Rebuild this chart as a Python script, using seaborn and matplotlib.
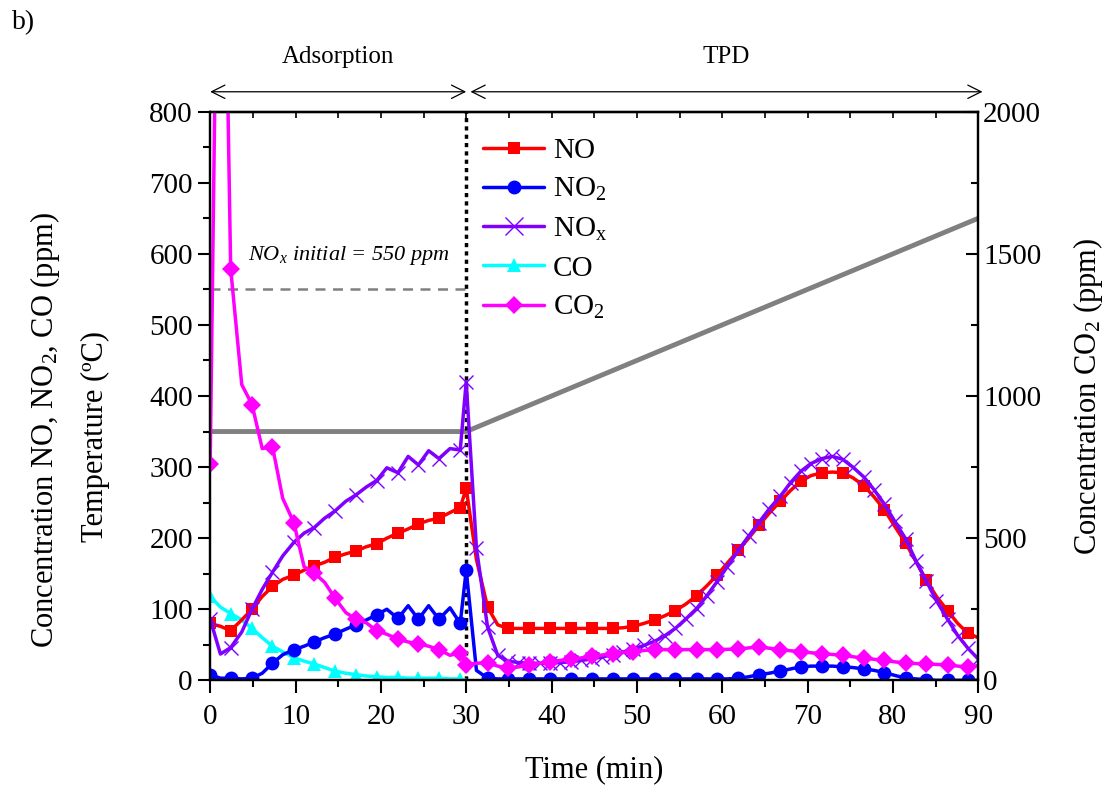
import matplotlib
matplotlib.use("Agg")
import matplotlib.pyplot as plt
from matplotlib.lines import Line2D
from matplotlib.ticker import MultipleLocator
import seaborn as sns

# sampling times (min): adsorption then TPD
time_ads = [0.0, 1.2, 2.4, 3.7, 4.9, 6.1, 7.3, 8.5, 9.8, 11.0, 12.2, 13.4, 14.6,
            15.9, 17.1, 18.3, 19.5, 20.7, 22.0, 23.2, 24.4, 25.6, 26.8, 28.1, 29.3]
time_tpd = [30.0, 31.2, 32.5, 33.7, 34.9, 36.1, 37.4, 38.6, 39.8, 41.0, 42.3, 43.5,
            44.7, 45.9, 47.2, 48.4, 49.6, 50.8, 52.1, 53.3, 54.5, 55.7, 57.0, 58.2,
            59.4, 60.6, 61.9, 63.1, 64.3, 65.5, 66.8, 68.0, 69.2, 70.4, 71.7, 72.9,
            74.1, 75.3, 76.6, 77.8, 79.0, 80.2, 81.5, 82.7, 83.9, 85.1, 86.4, 87.6,
            88.8, 90.0]
time = time_ads + time_tpd

no = [80, 76, 70, 85, 100, 118, 132, 142, 148, 155, 161, 166, 173,
      178, 182, 188, 192, 200, 207, 213, 220, 225, 228, 236, 243,
      270, 170, 103, 78, 73, 73, 73, 73, 73, 73, 73, 73,
      73, 73, 73, 74, 76, 80, 85, 91, 98, 107, 119, 133,
      148, 165, 183, 200, 218, 235, 252, 267, 280, 288, 292, 293,
      292, 285, 274, 258, 240, 217, 193, 167, 141, 118, 98, 80,
      66, 60]

no2 = [8, 3, 3, 2, 3, 10, 24, 36, 43, 48, 54, 60, 65,
       72, 78, 85, 92, 100, 87, 105, 86, 105, 86, 102, 80,
       155, 14, 3, 2, 2, 2, 2, 2, 2, 2, 2, 2,
       2, 2, 2, 2, 2, 2, 2, 2, 2, 2, 2, 2,
       2, 2, 3, 5, 8, 10, 13, 16, 19, 20, 20, 20,
       19, 18, 16, 14, 11, 7, 3, 2, 1, 0, 0, 0,
       0, 0]

nox = [86, 37, 46, 68, 100, 128, 152, 175, 194, 207, 215, 228, 238,
       252, 261, 272, 281, 299, 292, 315, 303, 323, 312, 326, 324,
       420, 186, 75, 35, 27, 25, 24, 24, 24, 25, 26, 28,
       30, 33, 36, 40, 44, 49, 55, 63, 73, 86, 101, 119,
       139, 160, 183, 203, 222, 241, 259, 278, 294, 305, 312, 315,
       311, 300, 286, 268, 248, 224, 199, 168, 140, 112, 86, 63,
       45, 30]

co_time = time_ads + [30.0]
co = [118, 103, 94, 85, 73, 60, 48, 40, 32, 27, 23, 18, 13,
      10, 8, 6, 5, 4, 4, 3, 3, 3, 3, 2, 2, 0]

co2 = [760, 3600, 1448, 1040, 970, 815, 822, 640, 555, 400, 377, 345, 290,
       238, 215, 202, 175, 162, 145, 135, 128, 120, 108, 88, 97,
       55, 60, 62, 50, 43, 47, 54, 60, 66, 70, 74, 79,
       84, 89, 94, 98, 101, 105, 108, 108, 108, 108, 108, 108,
       108, 109, 110, 114, 118, 113, 108, 104, 101, 97, 94, 91,
       88, 83, 78, 74, 70, 65, 61, 59, 57, 56, 54, 50,
       47, 52]

temp_time = [0, 30, 90]
temp = [350, 350, 650]

sns.set_style("ticks", {"axes.edgecolor": "black", "text.color": "black",
                        "axes.labelcolor": "black", "xtick.color": "black",
                        "ytick.color": "black"})
plt.rcParams['font.family'] = ['Liberation Serif', 'DejaVu Serif']
plt.rcParams['mathtext.fontset'] = 'custom'
plt.rcParams['mathtext.rm'] = 'Liberation Serif'
plt.rcParams['mathtext.it'] = 'Liberation Serif:italic'

fig = plt.figure(figsize=(11.18, 7.92), dpi=100)
ax = fig.add_axes([0.188, 0.141, 0.687, 0.718])
ax2 = ax.twinx()

ads_marks = list(range(0, 25, 2))
tpd_marks = [25 + k for k in range(0, 50, 2)]
marks = ads_marks + tpd_marks
nox_marks = ads_marks + list(range(25, 75))

# temperature ramp and reference lines
sns.lineplot(x=temp_time, y=temp, ax=ax, color='#808080', lw=3.5, estimator=None)
ax.plot([0, 30], [550, 550], color='#808080', lw=1.8, ls=(0, (4, 3)))
ax.plot([30, 30], [0, 800], color='black', lw=2.5, ls=(0, (1.2, 1.2)))

ms = 10
sns.lineplot(x=co_time, y=co, ax=ax, color='#00FFFF', lw=2.5, marker='^',
             markersize=ms, markeredgewidth=0, markevery=ads_marks, estimator=None)
sns.lineplot(x=time, y=no2, ax=ax, color='#0000FF', lw=2.5, marker='o',
             markersize=ms, markeredgewidth=0, markevery=marks, estimator=None)
sns.lineplot(x=time, y=no, ax=ax, color='#FF0000', lw=2.5, marker='s',
             markersize=ms - 1, markeredgewidth=0, markevery=marks, estimator=None)
sns.lineplot(x=time, y=nox, ax=ax, color='#8000FF', lw=2.5, marker='x',
             markersize=ms, markeredgewidth=1.0, markeredgecolor='#8000FF',
             markevery=nox_marks, estimator=None)
sns.lineplot(x=time, y=co2, ax=ax2, color='#FF00FF', lw=2.5, marker='D',
             markersize=ms - 1, markeredgewidth=0, markevery=marks, estimator=None)

ax.set_xlim(0, 90)
ax.set_ylim(0, 800)
ax2.set_ylim(0, 2000)
ax.set_xlabel('Time (min)', fontsize=22, labelpad=18)
ax.set_ylabel('')
ax2.set_ylabel('Concentration CO$_2$ (ppm)', fontsize=22, labelpad=21)

ax.xaxis.set_major_locator(MultipleLocator(10))
ax.xaxis.set_minor_locator(MultipleLocator(5))
ax.yaxis.set_major_locator(MultipleLocator(100))
ax.yaxis.set_minor_locator(MultipleLocator(50))
ax2.yaxis.set_major_locator(MultipleLocator(500))
ax2.yaxis.set_minor_locator(MultipleLocator(250))

ax.tick_params(which='major', direction='out', length=9, width=1.5, labelsize=21)
ax.tick_params(axis='x', which='major', pad=8)
ax.tick_params(which='minor', direction='out', length=5, width=1.5)
ax2.tick_params(which='major', direction='in', length=9, width=1.5, labelsize=21)
ax2.tick_params(which='minor', direction='in', length=5, width=1.5)
for a in (ax, ax2):
    for s in a.spines.values():
        s.set_linewidth(1.6)

# small inward ticks on the top edge
top = ax.secondary_xaxis('top')
top.xaxis.set_major_locator(MultipleLocator(10))
top.xaxis.set_minor_locator(MultipleLocator(5))
top.tick_params(which='both', direction='in', length=4, width=1.2, labeltop=False)
top.spines['top'].set_linewidth(1.6)

fig.text(0.04, 0.457, 'Concentration NO, NO$_2$, CO (ppm)', rotation=90,
         ha='center', va='center', fontsize=22)
fig.text(0.085, 0.449, 'Temperature (ºC)', rotation=90,
         ha='center', va='center', fontsize=22)

ax.text(4.4, 598, 'NO$_x$ initial = 550 ppm', fontsize=16, style='italic',
        ha='left', va='center')

# phase arrows
for x0, x1 in [(0, 30), (30.5, 90.5)]:
    ax.annotate('', xy=(x1, 1.035), xytext=(x0, 1.035),
                xycoords=('data', 'axes fraction'), annotation_clip=False,
                arrowprops=dict(arrowstyle='<->', lw=0.9, mutation_scale=24,
                                color='black', shrinkA=0, shrinkB=0))
ax.text(15, 1.097, 'Adsorption', transform=ax.get_xaxis_transform(),
        ha='center', va='center', fontsize=18)
ax.text(60.5, 1.097, 'TPD', transform=ax.get_xaxis_transform(),
        ha='center', va='center', fontsize=18)
fig.text(0.011, 0.972, 'b)', fontsize=20, ha='left', va='center')

handles = [
    Line2D([], [], color='#FF0000', lw=2.5, marker='s', markersize=ms - 1, markeredgewidth=0),
    Line2D([], [], color='#0000FF', lw=2.5, marker='o', markersize=ms, markeredgewidth=0),
    Line2D([], [], color='#8000FF', lw=2.5, marker='x', markersize=ms + 3, markeredgewidth=1.0),
    Line2D([], [], color='#00FFFF', lw=2.5, marker='^', markersize=ms, markeredgewidth=0),
    Line2D([], [], color='#FF00FF', lw=2.5, marker='D', markersize=ms - 1, markeredgewidth=0),
]
labels = ['NO', 'NO$_2$', 'NO$_\\mathrm{x}$', 'CO', 'CO$_2$']
if ax.get_legend() is not None:
    ax.get_legend().remove()
ax2.legend(handles, labels, loc='upper left', bbox_to_anchor=(0.34, 0.975),
           frameon=False, fontsize=21, handlelength=2.1, labelspacing=0.42,
           handletextpad=0.3, borderaxespad=0)

fig.savefig('out.png', dpi=100)
